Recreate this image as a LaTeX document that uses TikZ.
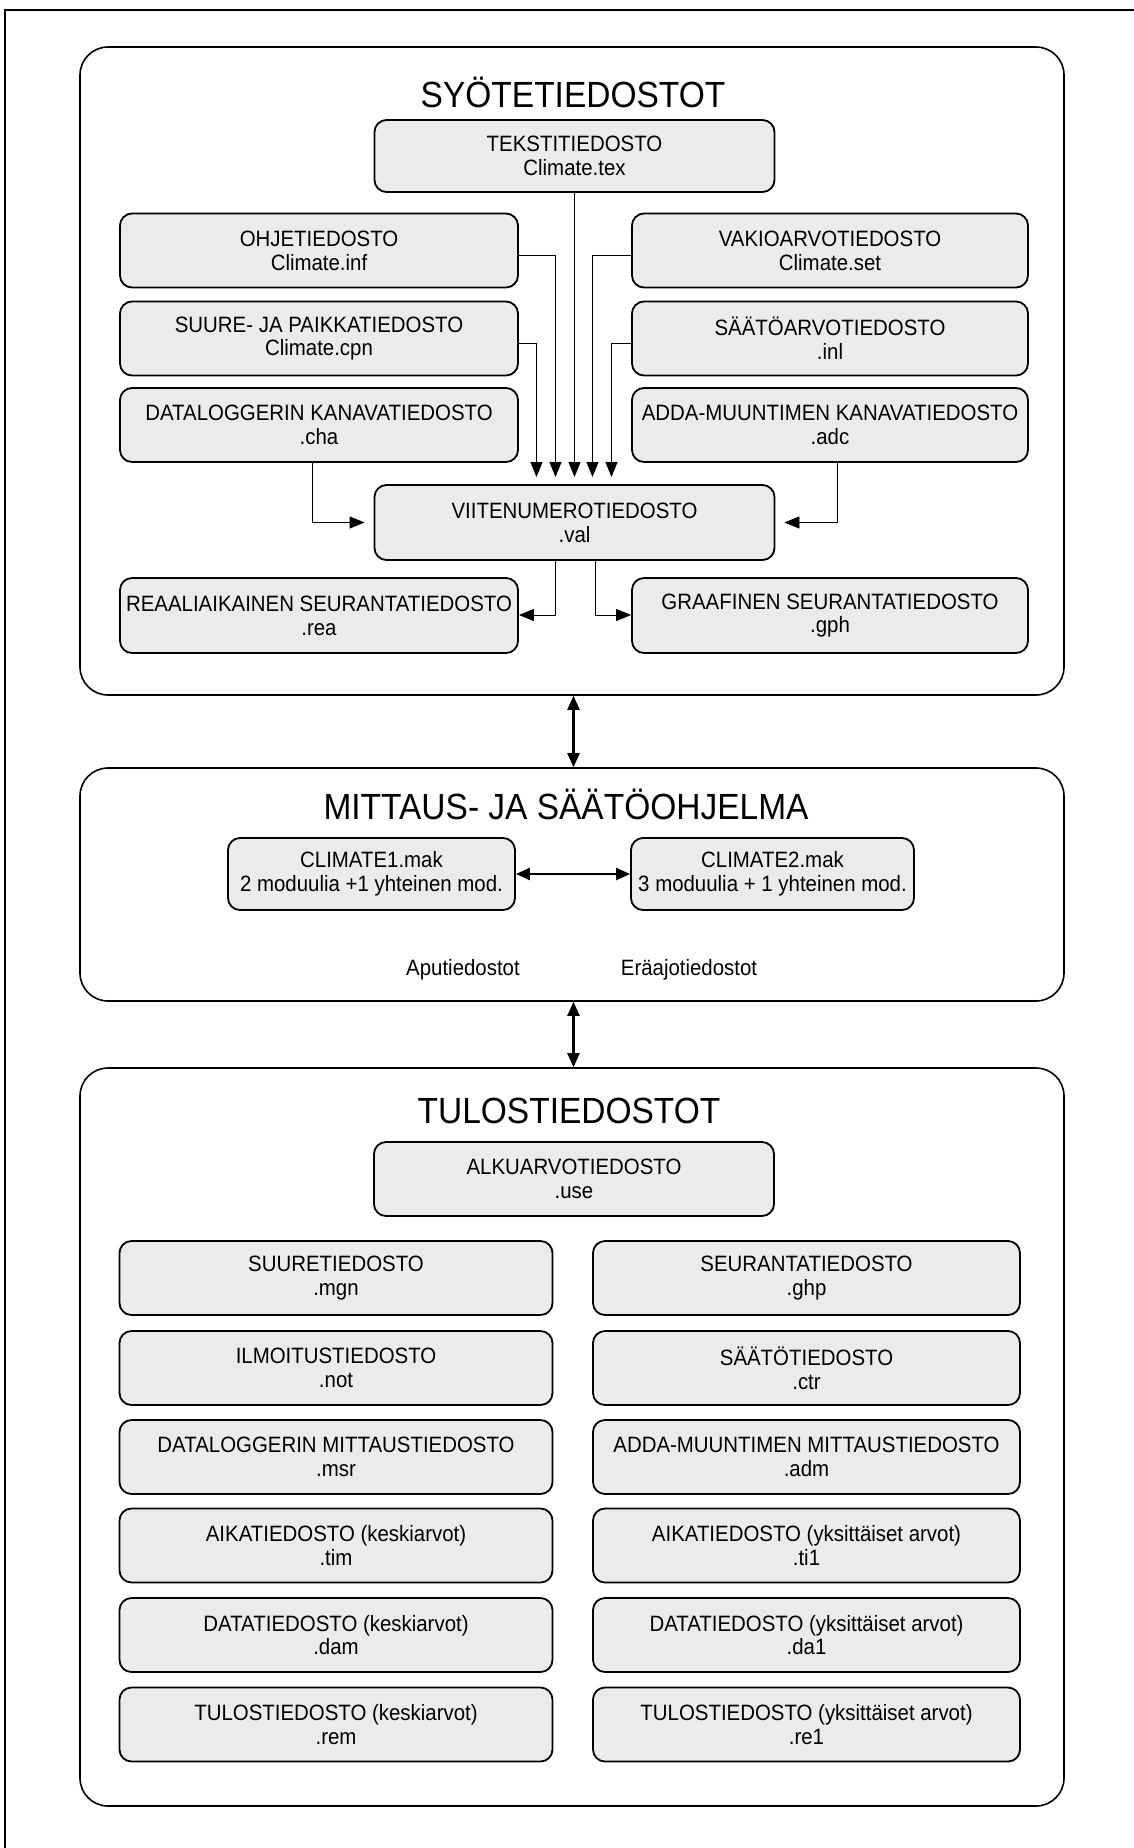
\documentclass[tikz,border=0pt]{standalone}
\usepackage{fontspec}
\setmainfont[FakeStretch=0.92]{Liberation Sans}
\usetikzlibrary{arrows.meta}
\begin{document}
\begin{tikzpicture}[x=1pt,y=-1pt,
  fbox/.style={draw=black, line width=1.8pt, rounded corners=12pt, fill=black!8,
    align=center, inner sep=0pt, font=\fontsize{22.2}{23.8}\selectfont},
  lbox/.style={fbox, minimum width=398pt, minimum height=74pt},
  rbox/.style={fbox, minimum width=396pt, minimum height=74pt},
  mbox/.style={fbox, minimum width=400pt, minimum height=74pt},
  bigbox/.style={draw=black, line width=1.6pt, rounded corners=28pt},
  ttl/.style={anchor=base, inner sep=0pt, font=\fontsize{36.4}{38}\selectfont},
  lbl/.style={inner sep=0pt, font=\fontsize{22.2}{23.8}\selectfont},
  thin/.style={line width=0.8pt},
  tip/.style={-{Triangle[length=15pt,width=12pt]}},
  dbl/.style={line width=2.2pt, {Triangle[length=14pt,width=12pt]}-{Triangle[length=14pt,width=12pt]}}
]
\useasboundingbox (0,0) rectangle (1134,1848);
% page frame
\draw[line width=2.5pt] (5,1848) -- (5,10) -- (1134,10);

% ---------- SYOTETIEDOSTOT ----------
\node[bigbox, minimum width=984pt, minimum height=648pt] (sec1) at (572,371) {};
\node[ttl] (t1) at (573,107) {SYÖTETIEDOSTOT};
\node[mbox, minimum height=72pt] (tex) at (574.5,156) {TEKSTITIEDOSTO\\Climate.tex};
\node[lbox] (inf) at (319,250.5) {OHJETIEDOSTO\\Climate.inf};
\node[rbox] (set) at (830,250.5) {VAKIOARVOTIEDOSTO\\Climate.set};
\node[lbox] (cpn) at (319,338.5) {SUURE- JA PAIKKATIEDOSTO\\Climate.cpn};
\node[rbox] (inl) at (830,338.5) {SÄÄTÖARVOTIEDOSTO\\.inl};
\node[lbox] (cha) at (319,425) {DATALOGGERIN KANAVATIEDOSTO\\.cha};
\node[rbox] (adc) at (830,425) {ADDA-MUUNTIMEN KANAVATIEDOSTO\\.adc};
\node[mbox, minimum height=75pt] (val) at (574.5,522.5) {VIITENUMEROTIEDOSTO\\.val};
\node[lbox, minimum height=75pt] (rea) at (319,615.5) {REAALIAIKAINEN SEURANTATIEDOSTO\\.rea};
\node[rbox, minimum height=75pt] (gph) at (830,615.5) {GRAAFINEN SEURANTATIEDOSTO\\.gph};

% inputs to val
\coordinate (vt) at (574.5,477);
\draw[thin, tip] (tex.south) -- (vt);
\draw[thin, tip] (inf.east |- 0,255) -| ([xshift=-19pt]vt);
\draw[thin, tip] (cpn.east |- 0,343) -| ([xshift=-38pt]vt);
\draw[thin, tip] (set.west |- 0,255) -| ([xshift=18pt]vt);
\draw[thin, tip] (inl.west |- 0,343) -| ([xshift=37pt]vt);
\draw[thin, tip, shorten >=9pt] (cha.south -| 312,0) |- (val.west);
\draw[thin, tip, shorten >=9pt] (adc.south -| 837,0) |- (val.east);
% outputs from val
\draw[thin, tip] (val.south -| 555,0) |- (rea.east |- 0,615);
\draw[thin, tip] (val.south -| 595,0) |- (gph.west |- 0,615);

% ---------- MITTAUS- JA SAATOOHJELMA ----------
\node[bigbox, minimum width=984pt, minimum height=233pt] (sec2) at (572,884.5) {};
\node[ttl] (t2) at (566,819) {MITTAUS- JA SÄÄTÖOHJELMA};
\node[fbox, minimum width=287pt, minimum height=72pt] (c1) at (371.5,874) {CLIMATE1.mak\\2 moduulia +1 yhteinen mod.};
\node[fbox, minimum width=283pt, minimum height=72pt] (c2) at (772.5,874) {CLIMATE2.mak\\3 moduulia + 1 yhteinen mod.};
\draw[dbl] (c1.east) -- (c2.west);
\node[lbl] (apu) at (463,970) {Aputiedostot};
\node[lbl] (era) at (689,970) {Eräajotiedostot};

\draw[dbl] (sec1.south -| 573.5,0) -- (sec2.north -| 573.5,0);

% ---------- TULOSTIEDOSTOT ----------
\node[bigbox, minimum width=984pt, minimum height=738pt] (sec3) at (572,1437) {};
\draw[dbl] (sec2.south -| 573.5,0) -- (sec3.north -| 573.5,0);
\node[ttl] (t3) at (569,1123) {TULOSTIEDOSTOT};
\node[mbox] (use) at (574,1179) {ALKUARVOTIEDOSTO\\.use};
\tikzset{ol/.style={fbox, minimum width=433pt, minimum height=74pt},
         orr/.style={fbox, minimum width=427pt, minimum height=74pt}}
\node[ol]  (mgn) at (336,1278) {SUURETIEDOSTO\\.mgn};
\node[orr] (ghp) at (806.5,1278) {SEURANTATIEDOSTO\\.ghp};
\node[ol]  (not) at (336,1368) {ILMOITUSTIEDOSTO\\.not};
\node[orr] (ctr) at (806.5,1368) {SÄÄTÖTIEDOSTO\\.ctr};
\node[ol]  (msr) at (336,1457) {DATALOGGERIN MITTAUSTIEDOSTO\\.msr};
\node[orr] (adm) at (806.5,1457) {ADDA-MUUNTIMEN MITTAUSTIEDOSTO\\.adm};
\node[ol]  (tim) at (336,1545.5) {AIKATIEDOSTO (keskiarvot)\\.tim};
\node[orr] (ti1) at (806.5,1545.5) {AIKATIEDOSTO (yksittäiset arvot)\\.ti1};
\node[ol]  (dam) at (336,1635) {DATATIEDOSTO (keskiarvot)\\.dam};
\node[orr] (da1) at (806.5,1635) {DATATIEDOSTO (yksittäiset arvot)\\.da1};
\node[ol]  (rem) at (336,1724.5) {TULOSTIEDOSTO (keskiarvot)\\.rem};
\node[orr] (re1) at (806.5,1724.5) {TULOSTIEDOSTO (yksittäiset arvot)\\.re1};
\end{tikzpicture}
\end{document}
